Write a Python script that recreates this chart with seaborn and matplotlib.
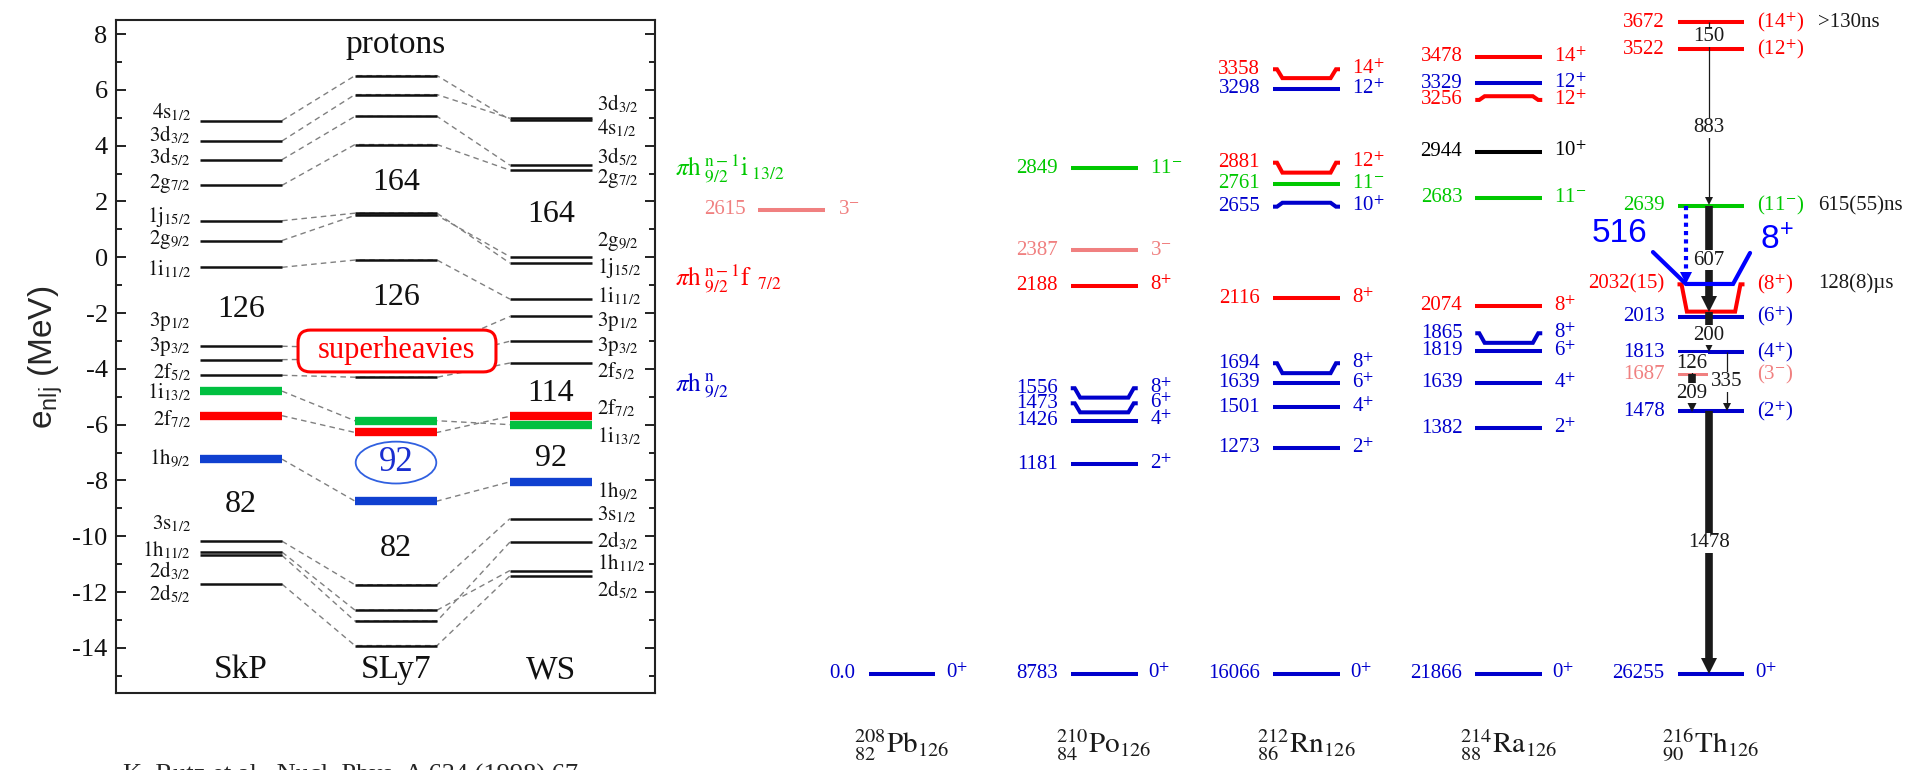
import numpy as np
import pandas as pd
import seaborn as sns
import matplotlib.pyplot as plt
from matplotlib.patches import Ellipse, FancyBboxPatch

# ---------------- left panel: proton single-particle energies (MeV)
orbitals = ['4s1/2', '3d3/2', '3d5/2', '2g7/2', '1j15/2', '2g9/2', '1i11/2',
            '3p1/2', '3p3/2', '2f5/2', '1i13/2', '2f7/2', '1h9/2',
            '3s1/2', '1h11/2', '2d3/2', '2d5/2']
skp = [4.90, 4.17, 3.50, 2.58, 1.31, 0.60, -0.36, -3.19, -3.67, -4.23,
       -4.80, -5.68, -7.24, -10.18, -10.57, -10.69, -11.72]
sly7 = [6.51, 5.83, 5.05, 4.04, 1.58, 1.50, -0.10, -3.25, -3.65, -4.30,
        -5.86, -6.28, -8.74, -11.74, -12.65, -13.04, -13.92]
ws = [4.93, 4.98, 3.30, 3.12, -0.21, 0.02, -1.50, -2.12, -3.01, -3.79,
      -6.00, -5.70, -8.05, -9.37, -11.23, -10.21, -11.42]
# where the orbital names are written
skp_lab = [5.20, 4.37, 3.60, 2.64, 1.45, 0.62, -0.45, -2.30, -3.19, -4.14,
           -4.86, -5.82, -7.20, -9.55, -10.51, -11.23, -12.08]
ws_lab = [4.62, 5.50, 3.61, 2.83, -0.39, 0.56, -1.41, -2.31, -3.20, -4.10,
          -6.43, -5.41, -8.37, -9.24, -10.99, -10.16, -11.91]
models = ['SkP', 'SLy7', 'WS']
magic_txt = ['126', '82', '164', '126', '82', '164', '114', '92']
magic_col = [1, 1, 2, 2, 2, 3, 3, 3]
magic_E = [-1.89, -8.88, 2.67, -1.45, -10.43, 1.52, -4.87, -7.20]
orb_colors = {'1i13/2': '#00c040', '2f7/2': '#ff0000', '1h9/2': '#1040d0'}

# ---------------- right panel: level schemes (keV)
nuclei = ['Pb', 'Po', 'Rn', 'Ra', 'Th']
mass_a = [208, 210, 212, 214, 216]
charge_z = [82, 84, 86, 88, 90]
gs_labels = ['0.0', '8783', '16066', '21866', '26255']
# energy text, spin, colour, keV at line middle, keV at line ends
pb_levels = [('2615', '3-', 'p', 2615, 2615)]
po_levels = [('2849', '11-', 'g', 2849, 2849), ('2387', '3-', 'p', 2387, 2387),
             ('2188', '8+', 'r', 2188, 2188), ('1556', '8+', 'b', 1556, 1609),
             ('1473', '6+', 'b', 1473, 1524), ('1426', '4+', 'b', 1426, 1426),
             ('1181', '2+', 'b', 1181, 1181)]
rn_levels = [('3358', '14+', 'r', 3358, 3408), ('3298', '12+', 'b', 3298, 3298),
             ('2881', '12+', 'r', 2825, 2881), ('2761', '11-', 'g', 2761, 2761),
             ('2655', '10+', 'b', 2655, 2633), ('2116', '8+', 'r', 2116, 2116),
             ('1694', '8+', 'b', 1694, 1750), ('1639', '6+', 'b', 1639, 1639),
             ('1501', '4+', 'b', 1501, 1501), ('1273', '2+', 'b', 1273, 1273)]
ra_levels = [('3478', '14+', 'r', 3478, 3478), ('3329', '12+', 'b', 3329, 3329),
             ('3256', '12+', 'r', 3256, 3235), ('2944', '10+', 'k', 2944, 2944),
             ('2683', '11-', 'g', 2683, 2683), ('2074', '8+', 'r', 2074, 2074),
             ('1865', '8+', 'b', 1865, 1919), ('1819', '6+', 'b', 1819, 1819),
             ('1639', '4+', 'b', 1639, 1639), ('1382', '2+', 'b', 1382, 1382)]
th_levels = [('3672', '(14+)', 'r', 3672, 3672), ('3522', '(12+)', 'r', 3522, 3522),
             ('2639', '(11-)', 'g', 2639, 2639), ('2032(15)', '(8+)', 'r', 2041, 2195),
             ('2013', '(6+)', 'b', 2013, 2013), ('1813', '(4+)', 'b', 1813, 1813),
             ('1687', '(3-)', 'p', 1687, 1687), ('1478', '(2+)', 'b', 1478, 1478)]
th_short = ['1687']
th_notes = ['>130ns', '615(55)ns', '128(8)µs']
th_notes_E = [3672, 2639, 2201]
# gamma transitions in 216Th
gam_E = [150, 883, 607, 200, 126, 209, 335, 1478]
gam_from = [3672, 3522, 2639, 2041, 1813, 1687, 1813, 1478]
gam_to = [3522, 2639, 2041, 1813, 1687, 1478, 1478, 0]
gam_lab_E = [3591, 3078, 2332, 1909, 1750, 1582, 1646, 737]
gam_dx = [-0.01, -0.01, -0.01, -0.01, -0.094, -0.094, 0.079, -0.01]
gam_thick = [False, False, True, True, False, True, False, True]
gam_head = [False, True, True, True, False, True, True, True]

level_colors = {'b': '#0000cc', 'r': '#ff0000', 'g': '#00c800',
                'p': '#f08080', 'k': '#000000'}

sns.set_theme(style='ticks')
plt.rcParams['font.family'] = ['Liberation Serif', 'DejaVu Serif']
plt.rcParams['mathtext.fontset'] = 'stix'
plt.rcParams['axes.unicode_minus'] = False

W, H = 1914, 770
fig = plt.figure(figsize=(W / 100, H / 100), dpi=100)

# ================= left panel
ax = fig.add_axes([116 / W, 77 / H, 539 / W, 673 / H])
hw = 0.265
rows = []
for o, a, b, c in zip(orbitals, skp, sly7, ws):
    rows += [(o, 1 + hw, a), (o, 2 - hw, b), (o, 2 + hw, b), (o, 3 - hw, c)]
conn = pd.DataFrame(rows, columns=['orb', 'x', 'E'])
sns.lineplot(data=conn, x='x', y='E', units='orb', estimator=None, sort=False,
             color='0.5', lw=1.0, ls=(0, (4, 3)), ax=ax, legend=False, zorder=2)

for x, vals in zip([1, 2, 3], [skp, sly7, ws]):
    for o, e in zip(orbitals, vals):
        col = orb_colors.get(o, '#111111')
        lw = 6 if o in orb_colors else 1.8
        ax.hlines(e, x - hw, x + hw, color=col, lw=lw, zorder=3)


def orb_tex(o):
    return r'$\mathrm{%s}_{%s}$' % (o[:2], o[2:])


for o, y in zip(orbitals, skp_lab):
    ax.text(0.677, y, orb_tex(o), ha='right', va='center', fontsize=15, color='#111')
for o, y in zip(orbitals, ws_lab):
    ax.text(3 + hw + 0.032, y, orb_tex(o), ha='left', va='center', fontsize=15, color='#111')

for t, c, e in zip(magic_txt, magic_col, magic_E):
    ax.text(c, e, t, ha='center', va='center', fontsize=23, color='#111')
for i, m in enumerate(models):
    ax.text(i + 1, -14.79, m, ha='center', va='center', fontsize=24, color='#111')
ax.text(2, 7.61, 'protons', ha='center', va='center', fontsize=24, color='#111')

# circled 92
ax.text(2, -7.36, '92', ha='center', va='center', fontsize=25, color='#1a2fd0', zorder=6)
ax.add_patch(Ellipse((2, -7.36), 0.52, 1.5, fill=False, ec='#3060e0', lw=1.3, zorder=6))

# superheavies box
ax.add_patch(FancyBboxPatch((1.368, -4.11), 1.277, 1.5,
                            boxstyle='round,pad=0,rounding_size=0.08',
                            mutation_aspect=5.56, ec='#ff0000', fc='white', lw=2.2, zorder=5))
ax.text(2.006, -3.36, 'superheavies', ha='center', va='center', fontsize=22,
        color='#ff0000', zorder=6)

ax.set_xlim(0.1935, 3.671)
ax.set_ylim(-15.62, 8.505)
ax.set_yticks(np.arange(-14, 9, 2))
ax.set_yticks(np.arange(-15, 9, 1), minor=True)
ax.set_xticks([])
ax.set_xlabel('')
ax.set_ylabel('')
ax.tick_params(axis='y', which='both', direction='in', left=True, right=True,
               labelsize=19, pad=6, width=1.3, colors='#111')
ax.tick_params(axis='y', which='major', length=7)
ax.tick_params(axis='y', which='minor', length=4)
for s in ax.spines.values():
    s.set_linewidth(1.5)
    s.set_color('#222')

fig.text(46 / W, 1 - 357 / H, r'$\mathregular{e_{nlj}}$ (MeV)', rotation=90,
         ha='center', va='center', fontsize=24, family=['Liberation Sans', 'DejaVu Sans'])
fig.text(123 / W, -12 / H, 'K. Rutz et al., Nucl. Phys. A 634 (1998) 67',
         ha='left', va='baseline', fontsize=19)

# ================= right panel
rax = fig.add_axes([0, 0, 1, 1])
px0, px_step = 902, 202.25
y_top, y_bot = 673.5 / 0.1773, (673.5 - H) / 0.1773
rax.set_xlim(-px0 / px_step, (W - px0) / px_step)
rax.set_ylim(y_bot, y_top)
rax.axis('off')
rax.patch.set_alpha(0)
kev_per_pt = (y_top - y_bot) / H * 100 / 72

lh = 0.1656          # half width of a level line
gap_l, gap_r = 0.064, 0.06
kink = np.array([0, 0.06, 0.14, 0.86, 0.94, 1.0])


def spin_tex(s):
    return s.replace('+', r'$^{+}$').replace('-', r'$^{-}$')


schemes = [pb_levels, po_levels, rn_levels, ra_levels, th_levels]
col_shift = [-0.544, 0, 0, 0, 0]
for i, (nuc, levels) in enumerate(zip(nuclei, schemes)):
    c = i + col_shift[i]
    for etxt, spin, ck, mid, end in levels:
        colr = level_colors[ck]
        if nuc == 'Th' and etxt in th_short:
            rax.plot([c - lh, c - lh + 2 * lh * 0.45], [mid, mid], color=colr, lw=2.9,
                     solid_capstyle='butt', zorder=3)
        elif mid == end:
            rax.plot([c - lh, c + lh], [mid, mid], color=colr, lw=2.9,
                     solid_capstyle='butt', zorder=3)
        else:
            xs = c - lh + 2 * lh * kink
            rax.plot(xs, [end, end, mid, mid, end, end], color=colr, lw=2.9,
                     solid_capstyle='butt', solid_joinstyle='miter', zorder=3)
        rax.text(c - lh - gap_l, end, etxt, ha='right', va='center', fontsize=15, color=colr)
        rax.text(c + lh + gap_r, end, spin_tex(spin), ha='left', va='center',
                 fontsize=15, color=colr)

for t, e in zip(th_notes, th_notes_E):
    rax.text(4.529, e, t, ha='left', va='center', fontsize=15, color='k')

# ground states
for i in range(len(nuclei)):
    rax.plot([i - lh, i + lh], [0, 0], color=level_colors['b'], lw=2.9,
             solid_capstyle='butt', zorder=3)
    rax.text(i - lh - gap_l, 0, gs_labels[i], ha='right', va='center', fontsize=15,
             color=level_colors['b'])
    rax.text(i + lh + 0.05, 0, spin_tex('0+'), ha='left', va='center', fontsize=15,
             color=level_colors['b'])
    rax.text(i, -448, r'${}^{%d}_{%d}\mathrm{%s}_{126}$' % (mass_a[i], charge_z[i], nuclei[i]),
             ha='center', va='baseline', fontsize=21, color='k')

# gamma rays
for e, f, t, dx, thick, head, ly in zip(gam_E, gam_from, gam_to, gam_dx,
                                        gam_thick, gam_head, gam_lab_E):
    x = 4 + dx
    lw = 5.5 if thick else 0.9
    ms = 11 if thick else 6
    stop = t + ms / 2 * kev_per_pt if head else t
    rax.plot([x, x], [f, stop], color='k', lw=lw, solid_capstyle='butt', zorder=4)
    if head:
        rax.plot(x, stop, marker='v', ms=ms, color='k', mew=0, zorder=4)
    rax.text(x, ly, str(e), ha='center', va='center', fontsize=15, color='k',
             bbox=dict(fc='white', ec='none', pad=0.3), zorder=6)

# 516 keV isomer annotation
blue = '#0000ff'
rax.plot([3.713, 3.876, 4.109, 4.193], [2377, 2197, 2197, 2372], color=blue, lw=3,
         solid_joinstyle='miter', zorder=5)
rax.plot([3.876, 3.876], [2639, 2197 + 4 * kev_per_pt], color=blue, lw=3,
         ls=(0, (1, 1)), zorder=5)
rax.plot(3.876, 2197 + 4 * kev_per_pt, marker='v', ms=8, color=blue, mew=0, zorder=5)
sans = ['Liberation Sans', 'DejaVu Sans']
rax.text(3.55, 2484, '516', ha='center', va='center', fontsize=24, color=blue, family=sans)
rax.text(4.326, 2445, r'8$^{\mathregular{+}}$', ha='center', va='center', fontsize=24,
         color=blue, family=sans)

# configuration labels
rax.text(-1.122, 2812, r'$\pi\mathrm{h}^{\ \mathrm{n-1}}_{\ 9/2}\mathrm{i}_{\ 13/2}$',
         ha='left', va='baseline', fontsize=18, color='#00c800')
rax.text(-1.122, 2191, r'$\pi\mathrm{h}^{\ \mathrm{n-1}}_{\ 9/2}\mathrm{f}_{\ \ 7/2}$',
         ha='left', va='baseline', fontsize=18, color='#ff0000')
rax.text(-1.122, 1599, r'$\pi\mathrm{h}^{\ \mathrm{n}}_{\ 9/2}$',
         ha='left', va='baseline', fontsize=18, color='#0000cc')

fig.savefig('out.png', dpi=100)
